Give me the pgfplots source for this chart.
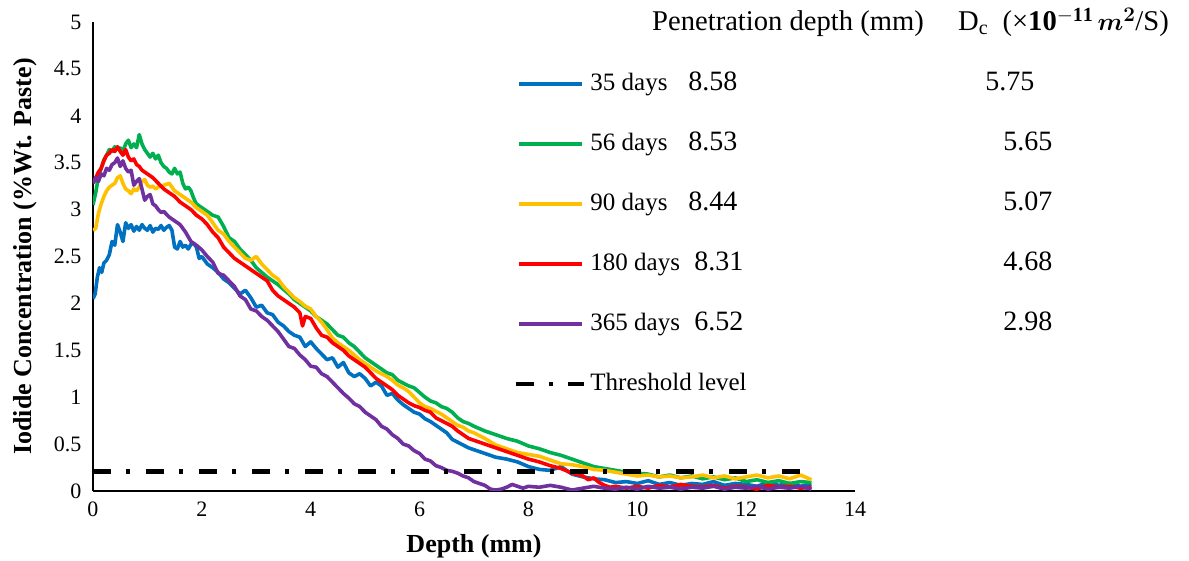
\documentclass[border=0pt]{standalone}
\usepackage{fontspec}
\setmainfont{Liberation Serif}
\usepackage{amsmath}
\usepackage{pgfplots}
\pgfplotsset{compat=1.18}
\definecolor{cA}{RGB}{0,112,192}
\definecolor{cB}{RGB}{0,176,80}
\definecolor{cC}{RGB}{255,192,0}
\definecolor{cD}{RGB}{255,0,0}
\definecolor{cE}{RGB}{112,48,160}
\newcommand\tickfont{\fontsize{22}{26}\selectfont}
\newcommand\legfont{\fontsize{25}{28}\selectfont}
\newcommand\numfont{\fontsize{28}{30}\selectfont}
\newcommand\hdfont{\fontsize{28.6}{30}\selectfont}
\newcommand\labfont{\fontsize{26}{30}\selectfont\bfseries}
\newcommand\row[5]{\makebox[#2][l]{#1}\makebox[#4][l]{\numfont #3}{\numfont #5}}
\begin{document}
\begin{tikzpicture}
\begin{axis}[
  scale only axis, width=762pt, height=469pt,
  xmin=0, xmax=14, ymin=0, ymax=5,
  axis x line=bottom, axis y line=left,
  axis line style={-, line width=1.5pt, black},
  xtick={0,2,4,6,8,10,12,14},
  ytick={0,0.5,1,1.5,2,2.5,3,3.5,4,4.5,5},
  major tick length=0pt,
  tick label style={font=\tickfont},
  /pgf/number format/assume math mode=true,
  yticklabel style={xshift=-8pt},
  xticklabel style={yshift=-7pt},
  xlabel={Depth (mm)},
  ylabel={Iodide Concentration (\%Wt. Paste)},
  label style={font=\labfont},
  xlabel style={at={(axis description cs:0.5,-0.117)}, anchor=center},
  ylabel style={at={(axis description cs:-0.0892,0.5)}, anchor=center},
  legend cell align=left,
  legend image code/.code={\draw[#1] (0pt,0pt) -- (63pt,0pt);},
  legend style={at={(rel axis cs:0.5482,0.8977)}, anchor=north west, draw=none, fill=none,
    font=\legfont, row sep=36pt,
    nodes={text height=18pt, text depth=6pt, inner xsep=4pt, inner ysep=0pt}},
  every axis plot/.append style={line width=3.6pt, line join=round},
]
\coordinate (BL) at (rel axis cs:0,0);
\addplot[cA] coordinates {
(0,2.05)(0.04,2.10)(0.08,2.28)(0.12,2.38)(0.16,2.33)(0.2,2.43)(0.25,2.46)(0.3,2.52)(0.35,2.66)(0.4,2.62)
(0.45,2.84)(0.5,2.76)(0.55,2.66)(0.6,2.86)(0.65,2.80)(0.7,2.84)(0.75,2.77)(0.8,2.82)(0.85,2.78)(0.9,2.84)
(0.95,2.80)(1.0,2.78)(1.05,2.83)(1.1,2.76)(1.15,2.80)(1.2,2.79)(1.25,2.83)(1.3,2.78)(1.35,2.81)(1.4,2.83)
(1.45,2.78)(1.5,2.60)(1.55,2.58)(1.6,2.66)(1.65,2.60)(1.7,2.62)(1.75,2.58)(1.8,2.63)(1.85,2.64)(1.9,2.60)
(1.95,2.48)(2.0,2.50)(2.1,2.42)(2.2,2.38)(2.3,2.33)(2.4,2.26)(2.5,2.22)(2.6,2.16)(2.7,2.10)(2.8,2.14)
(2.9,2.06)(3.0,1.96)(3.1,1.98)(3.2,1.90)(3.3,1.88)(3.4,1.80)(3.5,1.76)(3.6,1.70)(3.7,1.66)(3.8,1.64)
(3.9,1.54)(4.0,1.59)(4.1,1.52)(4.2,1.46)(4.3,1.40)(4.4,1.42)(4.5,1.32)(4.6,1.37)(4.7,1.26)(4.8,1.22)
(4.9,1.25)(5.0,1.20)(5.1,1.12)(5.2,1.16)(5.3,1.12)(5.4,1.02)(5.5,1.04)(5.6,0.97)(5.7,0.92)(5.8,0.88)
(5.9,0.84)(6.0,0.82)(6.1,0.77)(6.2,0.74)(6.3,0.70)(6.4,0.66)(6.5,0.62)(6.6,0.55)(6.7,0.52)(6.8,0.49)
(6.9,0.46)(7.0,0.44)(7.2,0.40)(7.4,0.36)(7.6,0.34)(7.8,0.31)(8.0,0.26)(8.2,0.23)(8.4,0.22)(8.6,0.26)
(8.8,0.18)(9.0,0.15)(9.2,0.13)(9.4,0.12)(9.6,0.09)(9.8,0.10)(10.0,0.08)(10.2,0.11)(10.4,0.07)(10.6,0.09)
(10.8,0.06)(11.0,0.08)(11.2,0.07)(11.4,0.10)(11.6,0.06)(11.8,0.08)(12.0,0.07)(12.2,0.05)(12.4,0.09)
(12.6,0.06)(12.8,0.08)(13.0,0.05)(13.2,0.07)};
\addlegendentry{\row{35 days}{98pt}{8.58}{297pt}{5.75}}
\addplot[cB] coordinates {
(0,3.05)(0.05,3.18)(0.1,3.35)(0.15,3.44)(0.2,3.53)(0.25,3.58)(0.3,3.64)(0.35,3.62)(0.4,3.67)(0.45,3.64)
(0.5,3.66)(0.55,3.62)(0.6,3.70)(0.65,3.74)(0.7,3.66)(0.75,3.70)(0.8,3.66)(0.85,3.80)(0.9,3.70)(0.95,3.64)
(1.0,3.60)(1.05,3.56)(1.1,3.60)(1.15,3.54)(1.2,3.58)(1.25,3.50)(1.3,3.46)(1.35,3.44)(1.4,3.40)(1.45,3.38)
(1.5,3.44)(1.55,3.38)(1.6,3.40)(1.65,3.28)(1.7,3.22)(1.75,3.24)(1.8,3.20)(1.85,3.12)(1.9,3.06)(1.95,3.04)
(2.0,3.02)(2.1,2.98)(2.2,2.94)(2.3,2.92)(2.4,2.82)(2.5,2.70)(2.6,2.66)(2.7,2.58)(2.8,2.52)(2.9,2.46)
(3.0,2.38)(3.1,2.33)(3.2,2.28)(3.3,2.24)(3.4,2.20)(3.5,2.15)(3.6,2.10)(3.7,2.04)(3.8,2.00)(3.9,1.96)
(4.0,1.92)(4.1,1.86)(4.2,1.82)(4.3,1.78)(4.4,1.72)(4.5,1.66)(4.6,1.64)(4.7,1.58)(4.8,1.54)(4.9,1.48)
(5.0,1.42)(5.1,1.38)(5.2,1.34)(5.3,1.30)(5.4,1.26)(5.5,1.24)(5.6,1.18)(5.7,1.15)(5.8,1.12)(5.9,1.10)
(6.0,1.05)(6.1,1.00)(6.2,0.96)(6.3,0.94)(6.4,0.90)(6.5,0.88)(6.6,0.84)(6.7,0.78)(6.8,0.74)(6.9,0.72)
(7.0,0.69)(7.2,0.64)(7.4,0.60)(7.6,0.56)(7.8,0.53)(8.0,0.48)(8.2,0.45)(8.4,0.41)(8.6,0.38)(8.8,0.34)
(9.0,0.30)(9.2,0.26)(9.4,0.24)(9.6,0.22)(9.8,0.20)(10.0,0.19)(10.2,0.18)(10.4,0.15)(10.6,0.17)(10.8,0.14)
(11.0,0.16)(11.2,0.13)(11.4,0.15)(11.6,0.12)(11.8,0.14)(12.0,0.10)(12.2,0.12)(12.4,0.09)(12.6,0.11)
(12.8,0.08)(13.0,0.10)(13.2,0.09)};
\addlegendentry{\row{56 days}{98pt}{8.53}{315pt}{5.65}}
\addplot[cC] coordinates {
(0,2.78)(0.05,2.80)(0.1,2.96)(0.15,3.06)(0.2,3.14)(0.25,3.20)(0.3,3.24)(0.35,3.26)(0.4,3.28)(0.45,3.34)
(0.5,3.36)(0.55,3.28)(0.6,3.22)(0.65,3.20)(0.7,3.17)(0.75,3.22)(0.8,3.20)(0.85,3.24)(0.9,3.30)(0.95,3.32)
(1.0,3.26)(1.05,3.24)(1.1,3.25)(1.15,3.22)(1.2,3.24)(1.3,3.26)(1.4,3.28)(1.5,3.20)(1.6,3.16)(1.7,3.12)
(1.8,3.08)(1.9,3.02)(2.0,2.98)(2.1,2.94)(2.2,2.86)(2.3,2.78)(2.4,2.74)(2.5,2.66)(2.6,2.60)(2.7,2.54)
(2.8,2.48)(2.9,2.46)(3.0,2.50)(3.1,2.42)(3.2,2.36)(3.3,2.30)(3.4,2.26)(3.5,2.18)(3.6,2.12)(3.7,2.06)
(3.8,2.02)(3.9,1.97)(4.0,1.94)(4.1,1.86)(4.2,1.80)(4.3,1.72)(4.4,1.63)(4.5,1.58)(4.6,1.54)(4.7,1.50)
(4.8,1.45)(4.9,1.40)(5.0,1.36)(5.1,1.32)(5.2,1.28)(5.3,1.25)(5.4,1.22)(5.5,1.18)(5.6,1.13)(5.7,1.10)
(5.8,1.06)(5.9,1.00)(6.0,0.94)(6.1,0.90)(6.2,0.88)(6.3,0.85)(6.4,0.82)(6.5,0.78)(6.6,0.74)(6.7,0.70)
(6.8,0.68)(6.9,0.64)(7.0,0.62)(7.2,0.56)(7.4,0.49)(7.6,0.45)(7.8,0.41)(8.0,0.39)(8.2,0.37)(8.4,0.33)
(8.6,0.29)(8.8,0.28)(9.0,0.26)(9.2,0.23)(9.4,0.22)(9.6,0.20)(9.8,0.18)(10.0,0.16)(10.2,0.17)(10.4,0.15)
(10.6,0.16)(10.8,0.14)(11.0,0.15)(11.2,0.17)(11.4,0.14)(11.6,0.16)(11.8,0.13)(12.0,0.15)(12.2,0.17)
(12.4,0.14)(12.6,0.16)(12.8,0.13)(13.0,0.17)(13.2,0.12)};
\addlegendentry{\row{90 days}{98pt}{8.44}{315pt}{5.07}}
\addplot[cD] coordinates {
(0,3.28)(0.05,3.34)(0.1,3.40)(0.15,3.44)(0.2,3.52)(0.25,3.58)(0.3,3.60)(0.35,3.64)(0.4,3.62)(0.45,3.67)
(0.5,3.62)(0.55,3.58)(0.6,3.64)(0.65,3.56)(0.7,3.52)(0.75,3.54)(0.8,3.48)(0.85,3.46)(0.9,3.42)(0.95,3.40)
(1.0,3.38)(1.1,3.34)(1.2,3.28)(1.3,3.22)(1.4,3.18)(1.5,3.14)(1.6,3.08)(1.7,3.04)(1.8,3.00)(1.9,2.94)
(2.0,2.90)(2.1,2.84)(2.2,2.76)(2.3,2.70)(2.4,2.60)(2.5,2.54)(2.6,2.48)(2.7,2.44)(2.8,2.40)(2.9,2.36)
(3.0,2.32)(3.1,2.28)(3.2,2.24)(3.3,2.14)(3.4,2.08)(3.5,2.04)(3.6,2.00)(3.7,1.96)(3.8,1.90)(3.85,1.76)
(3.9,1.86)(4.0,1.84)(4.1,1.74)(4.2,1.66)(4.3,1.64)(4.4,1.58)(4.5,1.54)(4.6,1.50)(4.7,1.44)(4.8,1.40)
(4.9,1.36)(5.0,1.32)(5.1,1.26)(5.2,1.20)(5.3,1.16)(5.4,1.12)(5.5,1.08)(5.6,1.02)(5.7,0.98)(5.8,0.94)
(5.9,0.91)(6.0,0.89)(6.1,0.86)(6.2,0.84)(6.3,0.78)(6.4,0.75)(6.5,0.72)(6.6,0.69)(6.7,0.64)(6.8,0.60)
(6.9,0.56)(7.0,0.54)(7.2,0.50)(7.4,0.46)(7.6,0.42)(7.8,0.38)(8.0,0.34)(8.2,0.31)(8.4,0.27)(8.6,0.24)
(8.8,0.19)(9.0,0.16)(9.1,0.12)(9.2,0.14)(9.3,0.09)(9.4,0.06)(9.5,0.04)(9.6,0.05)(9.8,0.03)(10.0,0.05)
(10.2,0.03)(10.4,0.06)(10.6,0.04)(10.8,0.07)(11.0,0.05)(11.2,0.04)(11.4,0.06)(11.6,0.03)(11.8,0.05)
(12.0,0.04)(12.2,0.02)(12.4,0.06)(12.6,0.04)(12.8,0.05)(13.0,0.03)(13.2,0.04)};
\addlegendentry{\row{180 days}{104pt}{8.31}{309pt}{4.68}}
\addplot[cE] coordinates {
(0,3.28)(0.05,3.34)(0.1,3.30)(0.15,3.38)(0.2,3.36)(0.25,3.44)(0.3,3.42)(0.35,3.48)(0.4,3.50)(0.45,3.55)
(0.5,3.46)(0.55,3.52)(0.6,3.44)(0.65,3.40)(0.7,3.42)(0.75,3.26)(0.8,3.30)(0.85,3.33)(0.9,3.22)(0.95,3.10)
(1.0,3.14)(1.05,3.16)(1.1,3.06)(1.15,3.04)(1.2,3.00)(1.25,2.97)(1.3,2.98)(1.4,2.92)(1.5,2.88)(1.6,2.84)
(1.7,2.76)(1.8,2.66)(1.9,2.62)(2.0,2.57)(2.1,2.50)(2.2,2.44)(2.3,2.32)(2.4,2.30)(2.5,2.24)(2.6,2.18)
(2.7,2.08)(2.8,2.04)(2.9,1.94)(3.0,1.92)(3.1,1.86)(3.2,1.82)(3.3,1.76)(3.4,1.70)(3.5,1.62)(3.6,1.54)
(3.7,1.52)(3.8,1.45)(3.9,1.40)(4.0,1.33)(4.1,1.32)(4.2,1.25)(4.3,1.22)(4.4,1.16)(4.5,1.10)(4.6,1.04)
(4.7,0.99)(4.8,0.93)(4.9,0.90)(5.0,0.84)(5.1,0.80)(5.2,0.76)(5.3,0.69)(5.4,0.66)(5.5,0.60)(5.6,0.56)
(5.7,0.50)(5.8,0.48)(5.9,0.43)(6.0,0.40)(6.1,0.34)(6.2,0.32)(6.3,0.27)(6.4,0.25)(6.5,0.22)(6.6,0.21)
(6.7,0.19)(6.8,0.16)(6.9,0.14)(7.0,0.10)(7.1,0.08)(7.2,0.06)(7.3,0.02)(7.4,0.01)(7.5,0.02)(7.6,0.04)
(7.7,0.07)(7.8,0.05)(7.9,0.03)(8.0,0.05)(8.2,0.04)(8.4,0.06)(8.6,0.04)(8.8,0.01)(9.0,0.03)(9.2,0.05)
(9.4,0.03)(9.6,0.02)(9.8,0.04)(10.0,0.02)(10.2,0.05)(10.4,0.03)(10.6,0.04)(10.8,0.02)(11.0,0.04)
(11.2,0.03)(11.4,0.05)(11.6,0.02)(11.8,0.04)(12.0,0.03)(12.2,0.05)(12.4,0.02)(12.6,0.04)(12.8,0.03)
(13.0,0.05)(13.2,0.02)};
\addlegendentry{\row{365 days}{104pt}{6.52}{309pt}{2.98}}
\addplot[black, line width=4.5pt, dash pattern=on 18pt off 15pt on 4pt off 16pt,
  legend image code/.code={\draw[black, line width=4.5pt, dash pattern=on 18pt off 15pt on 4pt off 15pt] (-3pt,0pt) -- (65pt,0pt);}]
  coordinates {(0,0.21)(13.0,0.21)};
\addlegendentry{Threshold level}
\end{axis}
\pgfresetboundingbox
\path[use as bounding box] ([shift={(-93pt,-70pt)}]BL) rectangle ([shift={(1096pt,491pt)}]BL);
\begin{scope}[shift={(BL)}]
\node[anchor=base west, inner sep=0pt, font=\hdfont] at (559pt,460pt) {Penetration depth (mm)};
\node[anchor=base west, inner sep=0pt, font=\hdfont] at (865pt,460pt) {D\textsubscript{c}\ \ (×$\mathbf{10^{-11}}\,\boldsymbol{m^{2}}$/S)};
\end{scope}
\end{tikzpicture}
\end{document}
